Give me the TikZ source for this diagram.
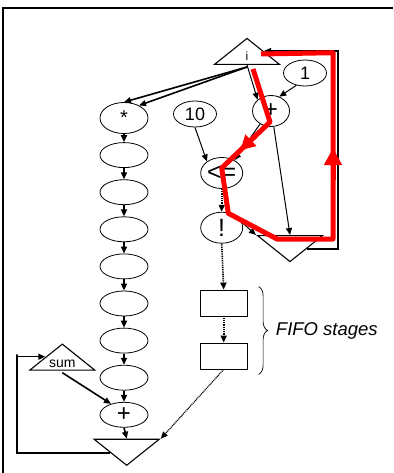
\documentclass[tikz,border=0pt]{standalone}
\usepackage{fontspec}
\setmainfont{Liberation Sans}
\usetikzlibrary{
    positioning,
    arrows.meta,
    shapes.geometric,
    calc,
    decorations.pathreplacing
}
\tikzset{
    >={Triangle[length=7pt,width=6pt]},
    op/.style={
        ellipse, draw, line width=0.8pt, inner sep=0pt,
        minimum width=48pt, minimum height=25pt,
        font=\fontsize{18pt}{18pt}\selectfont
    },
    bigop/.style={op, font=\fontsize{25pt}{25pt}\selectfont},
    fifo/.style={
        rectangle, draw, line width=0.8pt, inner sep=0pt,
        minimum width=47pt, minimum height=26pt
    },
    uptri/.style={
        isosceles triangle, isosceles triangle stretches,
        shape border rotate=90, draw, line width=1.1pt, inner sep=0pt,
        minimum width=65pt, minimum height=26pt
    },
    downtri/.style={uptri, shape border rotate=-90},
    trilabel/.style={above, inner sep=0pt},
    wire/.style={->, line width=1pt},
    fatwire/.style={->, line width=1.6pt},
    dotwire/.style={->, dash pattern=on 1pt off 0.8pt, line width=1.6pt},
    hilite/.style={red, line width=5pt, line join=round}
}

\begin{document}
\begin{tikzpicture}[x=1pt, y=-1pt]

    \useasboundingbox (0,0) rectangle (393,473);

    % Marco
    \draw[line width=2pt] (3,473) -- (3,8) -- (393,8);

    % Columna izquierda
    \node[op, minimum height=31pt, font=\fontsize{20pt}{20pt}\selectfont]
        (mul) at (124,118) {*};
    \foreach \k in {1,...,7}
        \node[op] (st\k) at (124,{118+37.1*\k}) {};
    \node[bigop, font=\fontsize{24pt}{24pt}\selectfont]
        (acc) at (124,414.8) {+};

    \foreach \a/\b in {mul/st1, st1/st2, st2/st3, st3/st4,
                       st4/st5, st5/st6, st6/st7, st7/acc}
        \draw[fatwire] (\a.south) -- (\b.north);

    % Contador
    \node[uptri, anchor=apex] (i) at (247,37) {};
    \path (i.lower side) node[trilabel, yshift=4pt,
        font=\fontsize{12pt}{12pt}\selectfont] (ilbl) {i};
    \node[op, minimum width=43pt, minimum height=26pt] (one) at (305,73) {1};
    \node[bigop, minimum width=37pt, minimum height=31pt,
          font=\fontsize{24pt}{24pt}\selectfont] (inc) at (271,111) {+};
    \node[op, minimum width=43pt, minimum height=26pt] (ten) at (195,114) {10};
    \node[bigop, minimum width=42pt, minimum height=31pt] (cmp) at (221.7,173) {<=};
    \node[bigop, minimum width=42pt, minimum height=31pt] (neg) at (221.7,227.7) {!};
    \node[downtri, anchor=apex] (nxt) at (290,263) {};

    % FIFO
    \node[fifo] (f1) at (223.7,303) {};
    \node[fifo] (f2) at (223.7,356) {};

    % Acumulador
    \node[uptri, anchor=apex] (sum) at (62.3,342.7) {};
    \path (sum.lower side) node[trilabel, yshift=3pt,
        font=\fontsize{14pt}{14pt}\selectfont] (sumlbl) {sum};
    \node[downtri, anchor=apex] (out) at (126.7,466.7) {};

    % Llave
    \draw[decorate, decoration={brace, amplitude=9pt}, line width=0.7pt]
        ($(f1.north east)+(11,-3)$) --
        node[anchor=west, inner sep=0pt, xshift=17pt,
             font=\fontsize{18.5pt}{18.5pt}\selectfont\itshape] (fifolbl) {FIFO stages}
        ($(f2.south east)+(11,5)$);

    % Transiciones
    \draw[fatwire] ([yshift=-2pt]i.lower side) -- (mul.north);
    \draw[fatwire] ([yshift=-2pt]i.lower side) -- (mul.40);
    \draw[wire] (i.lower side) -- (inc.140);
    \draw[wire] (one.-125) -- (inc.60);
    \draw[wire] (inc.-130) -- (cmp.45);
    \draw[wire] (inc.-80) -- (nxt.lower side);
    \draw[wire] (ten.south) -- (cmp.142);
    \draw[dotwire] (cmp.south) -- (neg.north);
    \draw[wire] (neg.15) -- (nxt.right corner);
    \draw[dotwire] (neg.south) -- (f1.north);
    \draw[dotwire] (f1.south) -- (f2.north);
    \draw[dotwire, line width=1.2pt] (f2.south) -- (out.left corner);
    \draw[fatwire] ([yshift=-2pt]sum.lower side) -- (acc.140);
    \draw[fatwire] (acc.south) -- (out.lower side);

    % Realimentaciones
    \coordinate (lp) at (16.7,354.3);
    \draw[fatwire] ($(out.apex)!0.5!(out.right corner)$) -| (lp)
        |- ($(sum.apex)!0.5!(sum.left corner)$);
    \coordinate (rp) at (338,51);
    \draw[->, line width=1.3pt] ($(nxt.apex)!0.5!(nxt.left corner)$) -| (rp)
        |- ($(i.apex)!0.5!(i.right corner)$);

    % Camino critico
    \coordinate (rA) at ([shift={(6,4)}]i.lower side);
    \coordinate (rB) at ([shift={(-1,11)}]inc.center);
    \coordinate (rC) at ([shift={(0,-5)}]cmp.center);
    \coordinate (rD) at ([shift={(6.6,-14.4)}]neg.center);
    \coordinate (rE) at ([shift={(-13,4)}]nxt.lower side);
    \coordinate (hr) at (333,52.7);
    \coordinate (rF) at ([shift={(14,-11)}]i.lower side);
    \draw[hilite] (rA) -- (rB) -- (rC) -- (rD) -- (rE) -| (hr) -- (rF);
    \draw[hilite, -{Triangle[length=15pt,width=15pt]}]
        ($(rB)!0.3!(rC)$) -- ($(rB)!0.62!(rC)$);
    \draw[hilite, -{Triangle[length=17pt,width=17pt]}]
        (333,180) -- (333,148);

\end{tikzpicture}
\end{document}
